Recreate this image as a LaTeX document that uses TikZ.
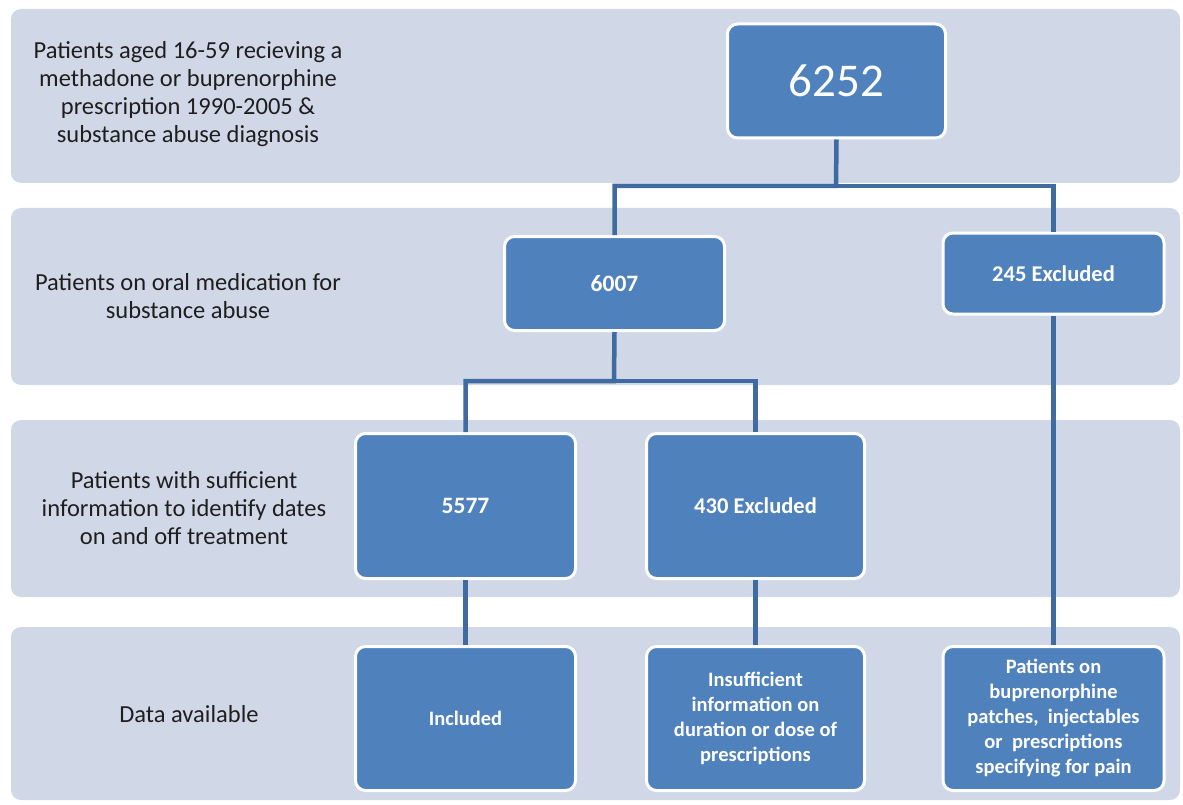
\documentclass[tikz,border=0pt]{standalone}
\usepackage{fontspec}
\setmainfont{Carlito}
\definecolor{bandfill}{HTML}{D0D8E8}
\definecolor{boxfill}{HTML}{4F81BD}
\definecolor{linkcol}{HTML}{3F6BA1}
\definecolor{labcol}{HTML}{1E1E1E}
\tikzset{
  band/.style={fill=bandfill, draw=none, rounded corners=10pt},
  bandlabel/.style={text=labcol, align=center, font=\fontsize{24.5}{28}\selectfont},
  box/.style={fill=boxfill, draw=white, line width=3pt, rounded corners=10pt, text=white, align=center, inner sep=2pt},
  numtext/.style={font=\bfseries\fontsize{23.5}{28}\selectfont},
  midtext/.style={font=\bfseries\fontsize{22.5}{27}\selectfont},
  lowtext/.style={font=\bfseries\fontsize{20.5}{25}\selectfont},
  link/.style={draw=linkcol, line width=4.5pt}
}
\begin{document}
\begin{tikzpicture}[x=1pt,y=-1pt]
\useasboundingbox (0,0) rectangle (1183,805);
\fill[white] (0,0) rectangle (1183,805);
% bands
\path[band] (11,9) rectangle (1180,183);
\path[band] (11,208) rectangle (1180,385);
\path[band] (11,420) rectangle (1180,597);
\path[band] (11,627) rectangle (1180,800);
% band labels
\node[bandlabel] (l1) at (188,94) {Patients aged 16-59 recieving a\\methadone or buprenorphine\\prescription 1990-2005 \&\\substance abuse diagnosis};
\node[bandlabel] (l2) at (188,296) {Patients on oral medication for\\substance abuse};
\node[bandlabel] (l3) at (184,508) {Patients with sufficient\\information to identify dates\\on and off treatment};
\node[bandlabel] (l4) at (189,714) {Data available};
% junctions
\coordinate (j1) at (836,186);
\coordinate (j2) at (614,381);
% nodes
\node[box, minimum width=218pt, minimum height=114pt, font=\fontsize{47}{52}\selectfont] (n6252) at (836.5,81) {6252};
\node[box, numtext, minimum width=220pt, minimum height=94pt] (n6007) at (614.5,283.5) {6007};
\node[box, midtext, minimum width=221pt, minimum height=81pt] (n245) at (1053.5,273.5) {245 Excluded};
\node[box, numtext, minimum width=220pt, minimum height=145pt] (n5577) at (465.5,506) {5577};
\node[box, midtext, minimum width=218pt, minimum height=145pt] (n430) at (755.5,506) {430 Excluded};
\node[box, lowtext, minimum width=220pt, minimum height=144pt] (ninc) at (465.5,718.5) {Included};
\node[box, lowtext, minimum width=218pt, minimum height=144pt] (nins) at (755.5,718.5) {Insufficient\\information on\\duration or dose of\\prescriptions};
\node[box, lowtext, minimum width=221pt, minimum height=144pt] (nbup) at (1053.5,718.5) {Patients on\\buprenorphine\\patches, \ injectables\\or \ prescriptions\\specifying for pain};
% connectors
\draw[link] (n6252.south) -- (j1) -| (n6007.north);
\draw[link] (j1) -| (n245.north);
\draw[link] (n6007.south) -- (j2) -| (n5577.north);
\draw[link] (j2) -| (n430.north);
\draw[link] (n5577.south) -- (ninc.north);
\draw[link] (n430.south) -- (nins.north);
\draw[link] (n245.south) -- (nbup.north);
\end{tikzpicture}
\end{document}
